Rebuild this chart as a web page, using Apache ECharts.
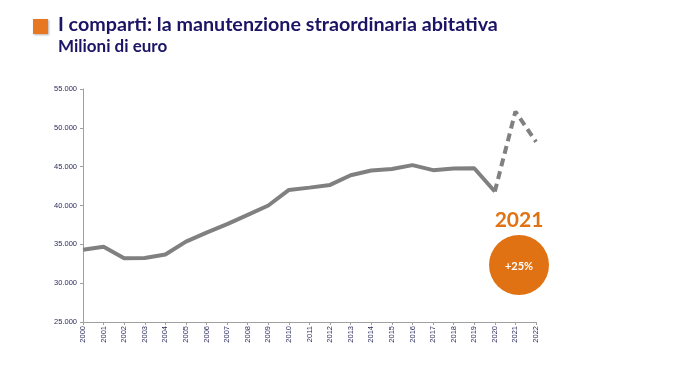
<!DOCTYPE html>
<html><head><meta charset="utf-8">
<script src="https://cdn.jsdelivr.net/npm/echarts@6/dist/echarts.min.js"></script>
<style>html,body{margin:0;padding:0;background:#fff}#c{width:680px;height:382px}</style>
</head><body><div id="c"></div>
<script>
const years = ['2000','2001','2002','2003','2004','2005','2006','2007','2008','2009','2010','2011','2012','2013','2014','2015','2016','2017','2018','2019','2020','2021','2022'];
const actual = [34300,34700,33200,33250,33700,35350,36500,37600,38800,40000,42000,42300,42650,43900,44500,44700,45200,44550,44750,44800,41800,null,null];
const forecast = [null,null,null,null,null,null,null,null,null,null,null,null,null,null,null,null,null,null,null,null,41800,52100,48200];
const yTicks = {min:25000, max:55000, interval:5000};
const title = 'I comparti: la manutenzione straordinaria abitativa';
const subtitle = 'Milioni di euro';
const badgeYear = '2021';
const badgeText = '+25%';

const chart = echarts.init(document.getElementById('c'), null, {renderer:'canvas'});
const navy = '#1b1464';
chart.setOption({
  animation:false,
  grid:{left:83, right:144, top:89, bottom:60},
  xAxis:{type:'category', data:years, boundaryGap:false,
    axisLine:{lineStyle:{color:'#a0a0a0', width:1}},
    axisTick:{show:true, alignWithLabel:true, length:3, lineStyle:{color:'#a0a0a0'}},
    axisLabel:{rotate:90, interval:0, fontSize:7.5, color:'#2b2b5c', fontFamily:'Liberation Sans', margin:4}},
  yAxis:{type:'value', min:yTicks.min, max:yTicks.max, interval:yTicks.interval,
    axisLine:{show:true, lineStyle:{color:'#a0a0a0', width:1}},
    axisTick:{show:true, length:3, lineStyle:{color:'#a0a0a0'}},
    splitLine:{show:false},
    axisLabel:{fontSize:7.5, color:'#2b2b5c', fontFamily:'Liberation Sans', margin:6,
      formatter:v=>v.toLocaleString('it-IT').replace(/\u00a0|\s/g,'.')}},
  series:[
    {type:'line', data:actual, symbol:'none', lineStyle:{color:'#808080', width:4}, connectNulls:false},
    {type:'line', data:forecast, symbol:'none', lineStyle:{color:'#808080', width:4, type:[8,5]}, connectNulls:false}
  ],
  graphic:[
    {type:'rect', shape:{x:33, y:19, width:15, height:15}, style:{fill:'#e87722', shadowBlur:2, shadowColor:'rgba(0,0,0,0.3)', shadowOffsetX:1, shadowOffsetY:1}},
    {type:'text', left:58, top:15, style:{text:title, font:'bold 19.7px Lato, sans-serif', fill:navy}},
    {type:'text', left:58, top:38, style:{text:subtitle, font:'bold 17px Lato, sans-serif', fill:navy}},
    {type:'text', x:519, y:220, style:{text:badgeYear, font:'bold 21px Lato, sans-serif', fill:'#e07214', align:'center', verticalAlign:'middle'}},
    {type:'circle', shape:{cx:519, cy:265, r:30}, style:{fill:'#e07214'}},
    {type:'text', x:519, y:266, style:{text:badgeText, font:'bold 11px Lato, sans-serif', fill:'#ffffff', align:'center', verticalAlign:'middle'}}
  ]
});
</script></body></html>
